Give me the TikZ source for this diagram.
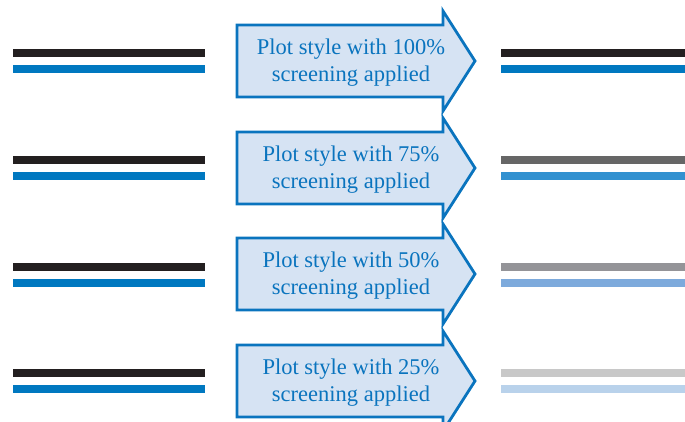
\documentclass[tikz,border=0pt]{standalone}
\usepackage{fontspec}
\setmainfont{Liberation Serif}
\usepackage{tikz}
\usepackage{xcolor}

\definecolor{inkblack}{RGB}{35,31,32}
\definecolor{inkblue}{RGB}{0,120,192}
\definecolor{grayA}{RGB}{102,102,102}
\definecolor{blueA}{RGB}{50,145,208}
\definecolor{grayB}{RGB}{148,148,152}
\definecolor{blueB}{RGB}{125,170,220}
\definecolor{grayC}{RGB}{200,200,200}
\definecolor{blueC}{RGB}{185,210,235}
\definecolor{arrowfill}{RGB}{214,227,243}
\definecolor{arrowedge}{RGB}{10,116,190}

\tikzset{
  plotline/.style={line width=8pt},
  screenarrow/.style={draw=arrowedge, fill=arrowfill, line width=2.8pt, line join=miter},
  arrowtext/.style={text=arrowedge, align=center, font=\fontsize{22.5}{27}\selectfont}
}

\begin{document}
\begin{tikzpicture}[x=1pt, y=-1pt]
    \useasboundingbox (0,0) rectangle (685,421);

    % 100% screening
    \draw[plotline, inkblack] (13,53) -- (205,53);
    \draw[plotline, inkblue] (13,69) -- (205,69);
    \draw[screenarrow] (237,25) -- (443,25) -- (443,11) -- (475,61) -- (443,111) -- (443,97) -- (237,97) -- cycle;
    \node[arrowtext] (t100) at (351,63) {Plot style with 100\%\\screening applied};
    \draw[plotline, inkblack] (501,53) -- (685,53);
    \draw[plotline, inkblue] (501,69) -- (685,69);

    % 75% screening
    \draw[plotline, inkblack] (13,160) -- (205,160);
    \draw[plotline, inkblue] (13,176) -- (205,176);
    \draw[screenarrow] (237,132) -- (443,132) -- (443,118) -- (475,168) -- (443,218) -- (443,204) -- (237,204) -- cycle;
    \node[arrowtext] (t75) at (351,170) {Plot style with 75\%\\screening applied};
    \draw[plotline, grayA] (501,160) -- (685,160);
    \draw[plotline, blueA] (501,176) -- (685,176);

    % 50% screening
    \draw[plotline, inkblack] (13,267) -- (205,267);
    \draw[plotline, inkblue] (13,283) -- (205,283);
    \draw[screenarrow] (237,238) -- (443,238) -- (443,224) -- (475,274) -- (443,324) -- (443,310) -- (237,310) -- cycle;
    \node[arrowtext] (t50) at (351,276) {Plot style with 50\%\\screening applied};
    \draw[plotline, grayB] (501,267) -- (685,267);
    \draw[plotline, blueB] (501,283) -- (685,283);

    % 25% screening
    \draw[plotline, inkblack] (13,373) -- (205,373);
    \draw[plotline, inkblue] (13,389) -- (205,389);
    \draw[screenarrow] (237,345) -- (443,345) -- (443,331) -- (475,381) -- (443,431) -- (443,417) -- (237,417) -- cycle;
    \node[arrowtext] (t25) at (351,383) {Plot style with 25\%\\screening applied};
    \draw[plotline, grayC] (501,373) -- (685,373);
    \draw[plotline, blueC] (501,389) -- (685,389);
\end{tikzpicture}
\end{document}
